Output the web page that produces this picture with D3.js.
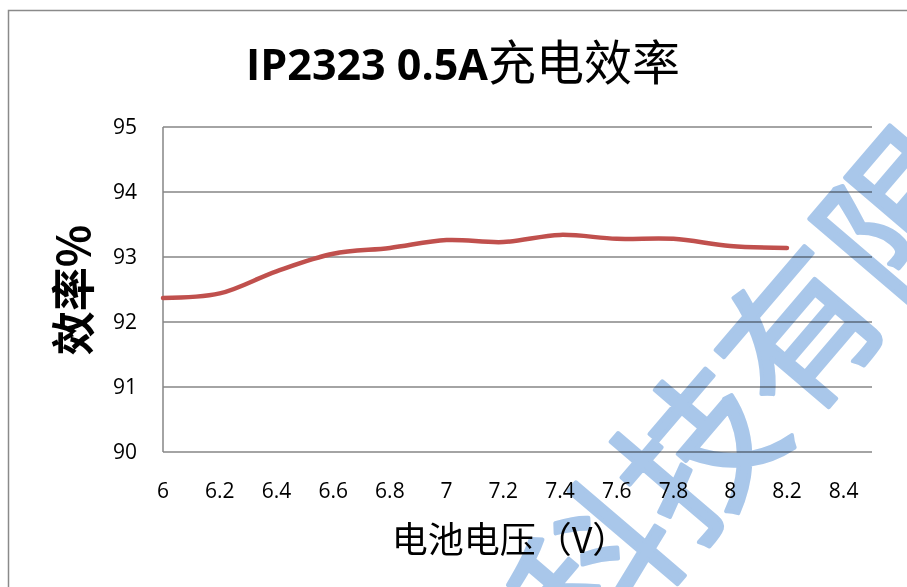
<!DOCTYPE html>
<html>
<head>
<meta charset="utf-8">
<script src="https://cdn.jsdelivr.net/npm/d3@7"></script>
<style>
  body { margin: 0; background: #fff; }
  svg { display: block; }
</style>
</head>
<body>
<div id="chart"></div>
<script>
// battery voltage (V) and charging efficiency (%)
const voltages = [6, 6.2, 6.4, 6.6, 6.8, 7, 7.2, 7.4, 7.6, 7.8, 8, 8.2]
const efficiency = [92.37, 92.44, 92.78, 93.05, 93.14, 93.26, 93.23, 93.34, 93.28, 93.28, 93.17, 93.14]
const xTicks = [6, 6.2, 6.4, 6.6, 6.8, 7, 7.2, 7.4, 7.6, 7.8, 8, 8.2, 8.4]
const yTicks = [90, 91, 92, 93, 94, 95]
const title = 'IP2323 0.5A'
const titleCn = '充电效率'
const watermark = '科技有限'

const width = 907
const height = 587
const margin = { top: 127, right: 35, bottom: 135, left: 163 }

const svg = d3.select('#chart')
  .append('svg')
  .attr('width', width)
  .attr('height', height)

// chart frame (only top and left edge visible in the crop)
svg.append('path')
  .attr('d', `M8.5,${height} V10.5 H${width}`)
  .attr('fill', 'none')
  .attr('stroke', '#8a8a8a')
  .attr('stroke-width', 1.5)

const x = d3.scaleLinear()
  .domain([6, 8.5])
  .range([margin.left, width - margin.right])

const y = d3.scaleLinear()
  .domain([90, 95])
  .range([height - margin.bottom, margin.top])

// gridlines
svg.append('g')
  .selectAll('line')
  .data(yTicks)
  .join('line')
  .attr('x1', x(6))
  .attr('x2', x(8.5))
  .attr('y1', d => y(d))
  .attr('y2', d => y(d))
  .attr('stroke', '#868686')
  .attr('stroke-width', 1.5)

// left axis line
svg.append('line')
  .attr('x1', x(6)).attr('x2', x(6))
  .attr('y1', y(95)).attr('y2', y(90))
  .attr('stroke', '#868686')
  .attr('stroke-width', 1.5)

// y tick labels
svg.append('g')
  .selectAll('text')
  .data(yTicks)
  .join('text')
  .attr('x', 137)
  .attr('y', d => y(d))
  .attr('dy', '0.35em')
  .attr('text-anchor', 'end')
  .style('font-family', '"Open Sans", "Noto Sans", sans-serif')
  .style('font-size', '21px')
  .attr('fill', '#000')
  .text(d => d)

// x tick labels
svg.append('g')
  .selectAll('text')
  .data(xTicks)
  .join('text')
  .attr('x', d => x(d))
  .attr('y', 498)
  .attr('text-anchor', 'middle')
  .style('font-family', '"Open Sans", "Noto Sans", sans-serif')
  .style('font-size', '21px')
  .attr('fill', '#000')
  .text(d => d)

// efficiency line (smoothed)
const line = d3.line()
  .x((d, i) => x(voltages[i]))
  .y(d => y(d))
  .curve(d3.curveCatmullRom.alpha(0.5))

svg.append('path')
  .datum(efficiency)
  .attr('d', line)
  .attr('fill', 'none')
  .attr('stroke', '#c0504d')
  .attr('stroke-width', 4.5)
  .attr('stroke-linecap', 'round')
  .attr('stroke-linejoin', 'round')

// title
const t = svg.append('text')
  .attr('x', 463)
  .attr('y', 80)
  .attr('text-anchor', 'middle')
t.append('tspan')
  .style('font-family', '"Open Sans", "Noto Sans", sans-serif')
  .style('font-weight', 'bold')
  .style('font-size', '43px')
  .text(title)
t.append('tspan')
  .style('font-family', '"Noto Sans CJK SC", sans-serif')
  .style('font-size', '48px')
  .text(titleCn)

// y axis title
svg.append('text')
  .attr('transform', 'translate(90, 290) rotate(-90)')
  .attr('text-anchor', 'middle')
  .style('font-family', '"Noto Sans CJK SC", sans-serif')
  .style('font-weight', 'bold')
  .style('font-size', '44px')
  .text('效率%')

// x axis title
svg.append('text')
  .attr('x', 510)
  .attr('y', 553)
  .attr('text-anchor', 'middle')
  .style('font-family', '"Noto Sans CJK SC", sans-serif')
  .style('font-size', '36px')
  .text('电池电压（V）')

// watermark
svg.append('text')
  .attr('transform', 'translate(752, 394) rotate(-49.5)')
  .attr('text-anchor', 'middle')
  .attr('dy', '0.35em')
  .style('font-family', '"Noto Sans CJK SC", sans-serif')
  .style('font-size', '156px')
  .style('mix-blend-mode', 'multiply')
  .attr('fill', '#a9c7ea')
  .attr('stroke', '#a9c7ea')
  .attr('stroke-width', 4)
  .attr('stroke-linejoin', 'round')
  .text(watermark)
</script>
</body>
</html>
